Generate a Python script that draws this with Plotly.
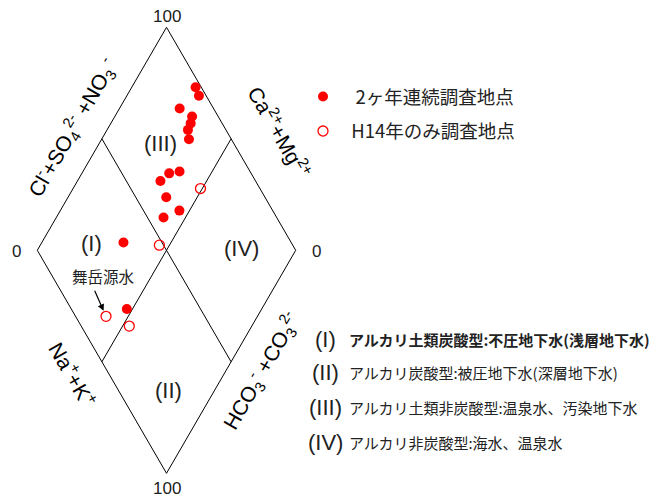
import numpy as np
import plotly.graph_objects as go

W, H = 657, 500

# Anion share (Cl- + SO4 2- + NO3-, %) and cation share (Ca2+ + Mg2+, %)
cont_anion = [97.8, 97.2, 86.9, 89.9, 87.8, 85.3, 83.6, 72.7, 68.3, 63.2, 61.8, 63.9, 56.2, 35.1, 21.5]
cont_cation = [75.3, 72.1, 76.7, 70.1, 69.1, 68.7, 66.2, 62.6, 66.2, 67.9, 62.0, 53.9, 58.5, 68.4, 52.2]
h14_anion = [77.0, 48.4, 11.8, 18.6]
h14_cation = [50.7, 53.9, 58.6, 47.4]

series_names = ["\u00a0\u00a0\u00a02ヶ年連続調査地点", "\u00a0\u00a0H14年のみ調査地点"]
region_labels = ["(I)", "(II)", "(III)", "(IV)"]
region_texts = [
    "<b>アルカリ土類炭酸型:不圧地下水(浅層地下水)</b>",
    "アルカリ炭酸型:被圧地下水(深層地下水)",
    "アルカリ土類非炭酸型:温泉水、汚染地下水",
    "アルカリ非炭酸型:海水、温泉水",
]
source_label = "舞岳源水"

S3 = np.sqrt(3) / 2


def diamond(anion, cation):
    a = np.asarray(anion, dtype=float)
    c = np.asarray(cation, dtype=float)
    return 0.5 * (a - c) / 100, S3 * (a + c) / 100


# pixel scale of the diamond frame
KX, KY = 258.4, 257.5
X0, Y0 = 166.5, 473.3


def px(x):
    return x / W


def py(y):
    return 1 - y / H


fig = go.Figure()

# outline and the two dividing lines
frame_a = [0, 100, 100, 0, 0, None, 50, 50, None, 100, 0]
frame_c = [100, 100, 0, 0, 100, None, 100, 0, None, 50, 50]
fx, fy = [], []
for a, c in zip(frame_a, frame_c):
    if a is None:
        fx.append(None)
        fy.append(None)
    else:
        x, y = diamond([a], [c])
        fx.append(float(x[0]))
        fy.append(float(y[0]))
fig.add_trace(go.Scatter(x=fx, y=fy, mode="lines", line=dict(color="black", width=1),
                         showlegend=False, hoverinfo="skip"))

cx, cy = diamond(cont_anion, cont_cation)
fig.add_trace(go.Scatter(x=cx, y=cy, mode="markers", name=series_names[0],
                         marker=dict(symbol="circle", size=10, color="#ff0000"),
                         legend="legend"))
hx, hy = diamond(h14_anion, h14_cation)
fig.add_trace(go.Scatter(x=hx, y=hy, mode="markers", name=series_names[1],
                         marker=dict(symbol="circle-open", size=10, color="#ff0000",
                                     line=dict(width=1.3, color="#ff0000")),
                         legend="legend2"))

ann = []
num_font = dict(family="Liberation Sans, Arial", size=17, color="#222")
for t, x, y in [("100", 166.7, 16.5), ("100", 166.7, 488), ("0", 16.7, 251.5), ("0", 316.7, 251.5)]:
    ann.append(dict(text=t, x=px(x), y=py(y), xref="paper", yref="paper",
                    showarrow=False, font=num_font, xanchor="center", yanchor="middle"))

edge_font = dict(family="Liberation Sans, Arial", size=21, color="black")
edges = [
    ("Cl<sup>-</sup>+SO<sub>4</sub><sup>2-</sup> +NO<sub>3</sub><sup> -</sup>", 72, 128, -60),
    ("Ca<sup>2+</sup>+Mg<sup>2+</sup>", 280, 132, 60),
    ("Na<sup>+</sup>+K<sup>+</sup>", 73, 374, 60),
    ("HCO<sub>3</sub><sup>-</sup> +CO<sub>3</sub><sup>2-</sup>", 261, 371, -60),
]
for t, x, y, ang in edges:
    ann.append(dict(text=t, x=px(x), y=py(y), xref="paper", yref="paper", textangle=ang,
                    showarrow=False, font=edge_font, xanchor="center", yanchor="middle"))

reg_font = dict(family="Liberation Sans, Arial", size=22, color="#222")
for t, x, y in zip(region_labels, [91.7, 168.3, 160, 241.7], [243, 390, 143, 248]):
    ann.append(dict(text=t, x=px(x), y=py(y), xref="paper", yref="paper",
                    showarrow=False, font=reg_font, xanchor="center", yanchor="middle"))

# key to the four water types
jp_font = dict(family="Noto Sans CJK JP", size=15, color="#222")
for i, (lab, txt, y) in enumerate(zip(region_labels, region_texts, [339, 372, 407, 442])):
    ann.append(dict(text=lab, x=px(325.5), y=py(y), xref="paper", yref="paper",
                    showarrow=False, font=reg_font, xanchor="center", yanchor="middle"))
    ann.append(dict(text=txt, x=px(347), y=py(y), xref="paper", yref="paper",
                    showarrow=False, font=jp_font, xanchor="left", yanchor="middle"))

# spring-source label with arrow to its point
ann.append(dict(text=source_label, x=px(103.5), y=py(275.5), xref="paper", yref="paper",
                showarrow=False, font=dict(family="Noto Sans CJK JP", size=15.5, color="#222"),
                xanchor="center", yanchor="middle"))
ann.append(dict(text="", x=float(hx[2]), y=float(hy[2]), xref="x", yref="y",
                ax=-12, ay=-27, showarrow=True, arrowhead=2, arrowsize=1.1,
                arrowwidth=1.2, arrowcolor="black", standoff=6))

leg_font = dict(family="Noto Sans CJK JP", size=18.5, color="#222")
fig.update_layout(
    width=W, height=H,
    margin=dict(l=0, r=0, t=0, b=0),
    paper_bgcolor="white", plot_bgcolor="white",
    xaxis=dict(range=[-X0 / KX, (W - X0) / KX], visible=False, fixedrange=True),
    yaxis=dict(range=[-(H - Y0) / KY, Y0 / KY], visible=False, fixedrange=True),
    annotations=ann,
    legend=dict(x=px(303), y=py(97), xanchor="left", yanchor="middle",
                font=leg_font, bgcolor="rgba(0,0,0,0)"),
    legend2=dict(x=px(303), y=py(131.5), xanchor="left", yanchor="middle",
                 font=leg_font, bgcolor="rgba(0,0,0,0)"),
    showlegend=True,
)

fig.write_html("out.html")
